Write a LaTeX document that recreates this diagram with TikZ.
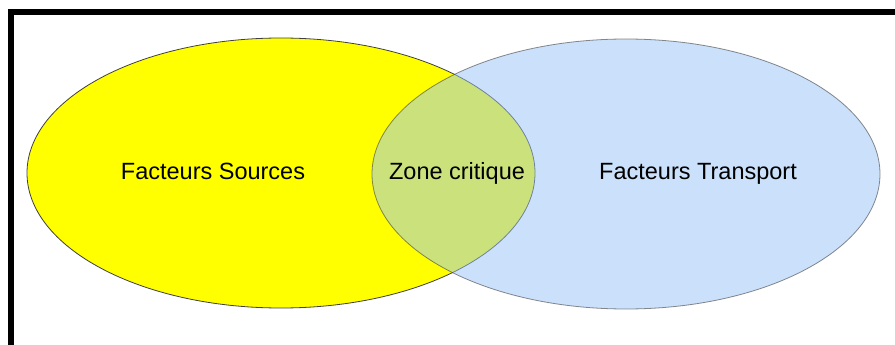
\documentclass[tikz,border=0pt]{standalone}
\usepackage{fontspec}
\setmainfont{Liberation Sans}
\usetikzlibrary{shapes.geometric}

\definecolor{srcyellow}{RGB}{255,255,0}
\definecolor{zoneblue}{RGB}{153,197,249}
\tikzset{
	venn/.style={ellipse, draw=black!75, line width=0.8pt, minimum width=508pt, minimum height=270pt, inner sep=0pt},
	lbl/.style={font=\fontsize{23.5}{28}\selectfont, inner sep=0pt, text height=17pt, text depth=5pt},
	frame/.style={line width=6pt}
}

\begin{document}
\begin{tikzpicture}[x=1pt, y=-1pt]
		\useasboundingbox (0,0) rectangle (895,345);
		\fill[white] (0,0) rectangle (895,345);
		\node[venn, fill=srcyellow] (src) at (281,173) {};
		\node[venn, fill=zoneblue, fill opacity=0.5, draw opacity=0.6] (trp) at (626,174) {};
		\node[lbl] (srcl) at (213,173) {Facteurs Sources};
		\node[lbl] (zone) at (457,173) {Zone critique};
		\node[lbl] (trpl) at (698,173) {Facteurs Transport};
		\draw[frame] (11,345) -- (11,12) -- (895,12);
	\end{tikzpicture}
\end{document}
